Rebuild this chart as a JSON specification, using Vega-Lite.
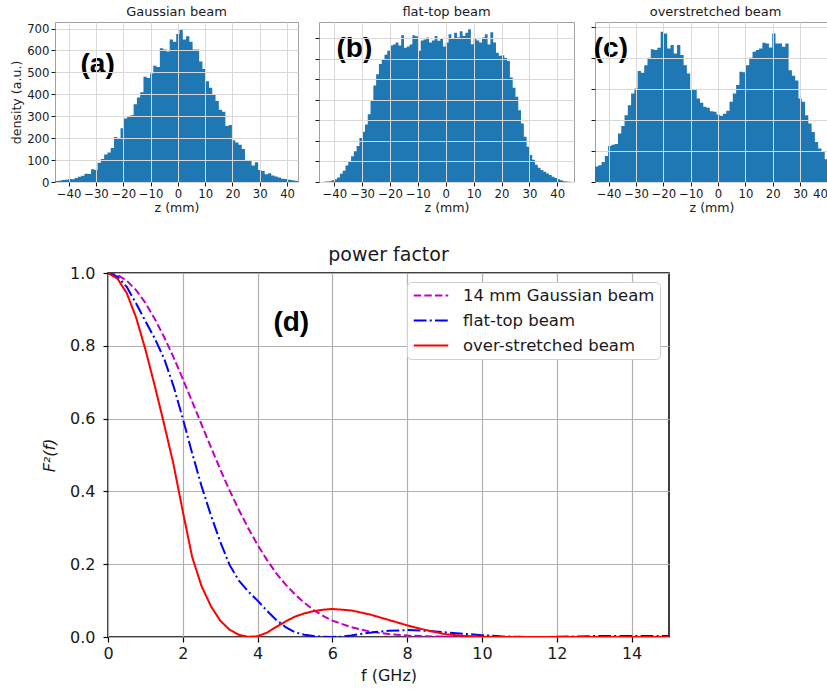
{
  "$schema": "https://vega.github.io/schema/vega-lite/v6.json",
  "padding": {"left": 10, "top": 5, "right": 0, "bottom": 0},
  "spacing": 30,
  "resolve": {"legend": {"color": "independent", "strokeDash": "independent"}},
  "config": {
    "font": "DejaVu Sans",
    "axis": {"labelColor": "#1a1a1a", "titleColor": "#1a1a1a", "titleFontWeight": "normal", "tickColor": "#1a1a1a", "labelOverlap": false},
    "title": {"fontWeight": "normal", "color": "#1a1a1a", "font": "DejaVu Sans"}
  },
  "datasets": {
    "gauss": [
      {"z": -45.0, "d": 4}, {"z": -43.8, "d": 6}, {"z": -42.6, "d": 9}, {"z": -41.4, "d": 10}, {"z": -40.2, "d": 14},
      {"z": -39.0, "d": 12}, {"z": -37.8, "d": 18}, {"z": -36.6, "d": 24}, {"z": -35.4, "d": 28}, {"z": -34.2, "d": 38},
      {"z": -33.0, "d": 36}, {"z": -31.8, "d": 58}, {"z": -30.6, "d": 55}, {"z": -29.4, "d": 88}, {"z": -28.2, "d": 105},
      {"z": -27.0, "d": 125}, {"z": -25.8, "d": 135}, {"z": -24.6, "d": 155}, {"z": -23.4, "d": 205}, {"z": -22.2, "d": 200},
      {"z": -21.0, "d": 245}, {"z": -19.8, "d": 290}, {"z": -18.6, "d": 300}, {"z": -17.4, "d": 305}, {"z": -16.2, "d": 355},
      {"z": -15.0, "d": 385}, {"z": -13.8, "d": 410}, {"z": -12.6, "d": 480}, {"z": -11.4, "d": 475}, {"z": -10.2, "d": 495},
      {"z": -9.0, "d": 530}, {"z": -7.8, "d": 525}, {"z": -6.6, "d": 610}, {"z": -5.4, "d": 605}, {"z": -4.2, "d": 595},
      {"z": -3.0, "d": 650}, {"z": -1.8, "d": 640}, {"z": -0.6, "d": 675}, {"z": 0.6, "d": 695}, {"z": 1.8, "d": 650},
      {"z": 3.0, "d": 665}, {"z": 4.2, "d": 640}, {"z": 5.4, "d": 605}, {"z": 6.6, "d": 605}, {"z": 7.8, "d": 550},
      {"z": 9.0, "d": 515}, {"z": 10.2, "d": 460}, {"z": 11.4, "d": 430}, {"z": 12.6, "d": 400}, {"z": 13.8, "d": 370},
      {"z": 15.0, "d": 330}, {"z": 16.2, "d": 320}, {"z": 17.4, "d": 255}, {"z": 18.6, "d": 260}, {"z": 19.8, "d": 190},
      {"z": 21.0, "d": 180}, {"z": 22.2, "d": 170}, {"z": 23.4, "d": 150}, {"z": 24.6, "d": 100}, {"z": 25.8, "d": 100},
      {"z": 27.0, "d": 75}, {"z": 28.2, "d": 90}, {"z": 29.4, "d": 55}, {"z": 30.6, "d": 50}, {"z": 31.8, "d": 35},
      {"z": 33.0, "d": 40}, {"z": 34.2, "d": 30}, {"z": 35.4, "d": 25}, {"z": 36.6, "d": 20}, {"z": 37.8, "d": 15},
      {"z": 39.0, "d": 14}, {"z": 40.2, "d": 10}, {"z": 41.4, "d": 8}, {"z": 42.6, "d": 6}, {"z": 43.8, "d": 4},
      {"z": 45.0, "d": 4}
    ],
    "flat": [
      {"z": -45, "d": 0}, {"z": -44, "d": 1}, {"z": -43, "d": 2}, {"z": -42, "d": 4}, {"z": -41, "d": 8},
      {"z": -40, "d": 14}, {"z": -39, "d": 22}, {"z": -38, "d": 40}, {"z": -37, "d": 55}, {"z": -36, "d": 80},
      {"z": -35, "d": 100}, {"z": -34, "d": 125}, {"z": -33, "d": 150}, {"z": -32, "d": 175}, {"z": -31, "d": 215},
      {"z": -30, "d": 245}, {"z": -29, "d": 280}, {"z": -28, "d": 330}, {"z": -27, "d": 400}, {"z": -26, "d": 470},
      {"z": -25, "d": 525}, {"z": -24, "d": 575}, {"z": -23, "d": 595}, {"z": -22, "d": 620}, {"z": -21, "d": 640},
      {"z": -20, "d": 665}, {"z": -19, "d": 670}, {"z": -18, "d": 680}, {"z": -17, "d": 665}, {"z": -16, "d": 715},
      {"z": -15, "d": 655}, {"z": -14, "d": 660}, {"z": -13, "d": 670}, {"z": -12, "d": 715}, {"z": -11, "d": 710},
      {"z": -10, "d": 640}, {"z": -9, "d": 690}, {"z": -8, "d": 695}, {"z": -7, "d": 705}, {"z": -6, "d": 680},
      {"z": -5, "d": 690}, {"z": -4, "d": 712}, {"z": -3, "d": 688}, {"z": -2, "d": 700}, {"z": -1, "d": 660},
      {"z": 0, "d": 680}, {"z": 1, "d": 720}, {"z": 2, "d": 700}, {"z": 3, "d": 728}, {"z": 4, "d": 705},
      {"z": 5, "d": 735}, {"z": 6, "d": 712}, {"z": 7, "d": 728}, {"z": 8, "d": 745}, {"z": 9, "d": 672},
      {"z": 10, "d": 700}, {"z": 11, "d": 690}, {"z": 12, "d": 680}, {"z": 13, "d": 705}, {"z": 14, "d": 720},
      {"z": 15, "d": 670}, {"z": 16, "d": 730}, {"z": 17, "d": 680}, {"z": 18, "d": 630}, {"z": 19, "d": 615},
      {"z": 20, "d": 618}, {"z": 21, "d": 605}, {"z": 22, "d": 590}, {"z": 23, "d": 510}, {"z": 24, "d": 460},
      {"z": 25, "d": 415}, {"z": 26, "d": 350}, {"z": 27, "d": 285}, {"z": 28, "d": 220}, {"z": 29, "d": 172},
      {"z": 30, "d": 132}, {"z": 31, "d": 108}, {"z": 32, "d": 84}, {"z": 33, "d": 70}, {"z": 34, "d": 58},
      {"z": 35, "d": 50}, {"z": 36, "d": 42}, {"z": 37, "d": 34}, {"z": 38, "d": 26}, {"z": 39, "d": 20},
      {"z": 40, "d": 14}, {"z": 41, "d": 8}, {"z": 42, "d": 4}, {"z": 43, "d": 2}, {"z": 44, "d": 1}, {"z": 45, "d": 1}
    ],
    "over": [
      {"z": -45.0, "d": 50}, {"z": -43.8, "d": 54}, {"z": -42.6, "d": 64}, {"z": -41.4, "d": 84}, {"z": -40.2, "d": 116},
      {"z": -39.0, "d": 120}, {"z": -37.8, "d": 122}, {"z": -36.6, "d": 156}, {"z": -35.4, "d": 180}, {"z": -34.2, "d": 215},
      {"z": -33.0, "d": 247}, {"z": -31.8, "d": 285}, {"z": -30.6, "d": 301}, {"z": -29.4, "d": 357}, {"z": -28.2, "d": 352},
      {"z": -27.0, "d": 376}, {"z": -25.8, "d": 400}, {"z": -24.6, "d": 427}, {"z": -23.4, "d": 425}, {"z": -22.2, "d": 432},
      {"z": -21.0, "d": 484}, {"z": -19.8, "d": 478}, {"z": -18.6, "d": 430}, {"z": -17.4, "d": 441}, {"z": -16.2, "d": 414},
      {"z": -15.0, "d": 441}, {"z": -13.8, "d": 409}, {"z": -12.6, "d": 376}, {"z": -11.4, "d": 349}, {"z": -10.2, "d": 299},
      {"z": -9.0, "d": 296}, {"z": -7.8, "d": 269}, {"z": -6.6, "d": 255}, {"z": -5.4, "d": 242}, {"z": -4.2, "d": 239},
      {"z": -3.0, "d": 228}, {"z": -1.8, "d": 226}, {"z": -0.6, "d": 217}, {"z": 0.6, "d": 213}, {"z": 1.8, "d": 220},
      {"z": 3.0, "d": 229}, {"z": 4.2, "d": 258}, {"z": 5.4, "d": 285}, {"z": 6.6, "d": 312}, {"z": 7.8, "d": 355},
      {"z": 9.0, "d": 353}, {"z": 10.2, "d": 376}, {"z": 11.4, "d": 400}, {"z": 12.6, "d": 419}, {"z": 13.8, "d": 425},
      {"z": 15.0, "d": 430}, {"z": 16.2, "d": 448}, {"z": 17.4, "d": 446}, {"z": 18.6, "d": 433}, {"z": 19.8, "d": 478},
      {"z": 21.0, "d": 446}, {"z": 22.2, "d": 446}, {"z": 23.4, "d": 435}, {"z": 24.6, "d": 446}, {"z": 25.8, "d": 360},
      {"z": 27.0, "d": 342}, {"z": 28.2, "d": 327}, {"z": 29.4, "d": 269}, {"z": 30.6, "d": 258}, {"z": 31.8, "d": 215},
      {"z": 33.0, "d": 188}, {"z": 34.2, "d": 161}, {"z": 35.4, "d": 129}, {"z": 36.6, "d": 108}, {"z": 37.8, "d": 100},
      {"z": 39.0, "d": 73}, {"z": 40.2, "d": 60}, {"z": 41.4, "d": 50}, {"z": 42.6, "d": 50}
    ],
    "power": [
      {"beam": "14 mm Gaussian beam", "f": 0, "F2": 1}, {"beam": "14 mm Gaussian beam", "f": 0.25, "F2": 0.995},
      {"beam": "14 mm Gaussian beam", "f": 0.5, "F2": 0.979}, {"beam": "14 mm Gaussian beam", "f": 0.75, "F2": 0.953},
      {"beam": "14 mm Gaussian beam", "f": 1, "F2": 0.918}, {"beam": "14 mm Gaussian beam", "f": 1.25, "F2": 0.874},
      {"beam": "14 mm Gaussian beam", "f": 1.5, "F2": 0.824}, {"beam": "14 mm Gaussian beam", "f": 1.75, "F2": 0.769},
      {"beam": "14 mm Gaussian beam", "f": 2, "F2": 0.709}, {"beam": "14 mm Gaussian beam", "f": 2.25, "F2": 0.647},
      {"beam": "14 mm Gaussian beam", "f": 2.5, "F2": 0.584}, {"beam": "14 mm Gaussian beam", "f": 2.75, "F2": 0.522},
      {"beam": "14 mm Gaussian beam", "f": 3, "F2": 0.461}, {"beam": "14 mm Gaussian beam", "f": 3.25, "F2": 0.403},
      {"beam": "14 mm Gaussian beam", "f": 3.5, "F2": 0.349}, {"beam": "14 mm Gaussian beam", "f": 3.75, "F2": 0.299},
      {"beam": "14 mm Gaussian beam", "f": 4, "F2": 0.253}, {"beam": "14 mm Gaussian beam", "f": 4.25, "F2": 0.212},
      {"beam": "14 mm Gaussian beam", "f": 4.5, "F2": 0.175}, {"beam": "14 mm Gaussian beam", "f": 4.75, "F2": 0.144},
      {"beam": "14 mm Gaussian beam", "f": 5, "F2": 0.117}, {"beam": "14 mm Gaussian beam", "f": 5.25, "F2": 0.094},
      {"beam": "14 mm Gaussian beam", "f": 5.5, "F2": 0.074}, {"beam": "14 mm Gaussian beam", "f": 5.75, "F2": 0.058},
      {"beam": "14 mm Gaussian beam", "f": 6, "F2": 0.045}, {"beam": "14 mm Gaussian beam", "f": 6.5, "F2": 0.027},
      {"beam": "14 mm Gaussian beam", "f": 7, "F2": 0.015}, {"beam": "14 mm Gaussian beam", "f": 7.5, "F2": 0.008},
      {"beam": "14 mm Gaussian beam", "f": 8, "F2": 0.004}, {"beam": "14 mm Gaussian beam", "f": 8.5, "F2": 0.002},
      {"beam": "14 mm Gaussian beam", "f": 9, "F2": 0.001}, {"beam": "14 mm Gaussian beam", "f": 10, "F2": 0.0002},
      {"beam": "14 mm Gaussian beam", "f": 11, "F2": 0}, {"beam": "14 mm Gaussian beam", "f": 13, "F2": 0},
      {"beam": "14 mm Gaussian beam", "f": 15, "F2": 0},
      {"beam": "flat-top beam", "f": 0, "F2": 1}, {"beam": "flat-top beam", "f": 0.25, "F2": 0.99},
      {"beam": "flat-top beam", "f": 0.5, "F2": 0.962}, {"beam": "flat-top beam", "f": 0.75, "F2": 0.917},
      {"beam": "flat-top beam", "f": 1, "F2": 0.868}, {"beam": "flat-top beam", "f": 1.25, "F2": 0.82},
      {"beam": "flat-top beam", "f": 1.5, "F2": 0.765}, {"beam": "flat-top beam", "f": 1.75, "F2": 0.69},
      {"beam": "flat-top beam", "f": 2, "F2": 0.6}, {"beam": "flat-top beam", "f": 2.25, "F2": 0.505},
      {"beam": "flat-top beam", "f": 2.5, "F2": 0.415}, {"beam": "flat-top beam", "f": 2.75, "F2": 0.335},
      {"beam": "flat-top beam", "f": 3, "F2": 0.262}, {"beam": "flat-top beam", "f": 3.25, "F2": 0.198},
      {"beam": "flat-top beam", "f": 3.5, "F2": 0.155}, {"beam": "flat-top beam", "f": 3.75, "F2": 0.125},
      {"beam": "flat-top beam", "f": 4, "F2": 0.1}, {"beam": "flat-top beam", "f": 4.25, "F2": 0.072},
      {"beam": "flat-top beam", "f": 4.5, "F2": 0.047}, {"beam": "flat-top beam", "f": 4.75, "F2": 0.027},
      {"beam": "flat-top beam", "f": 5, "F2": 0.013}, {"beam": "flat-top beam", "f": 5.25, "F2": 0.006},
      {"beam": "flat-top beam", "f": 5.5, "F2": 0.0025}, {"beam": "flat-top beam", "f": 5.75, "F2": 0.0006},
      {"beam": "flat-top beam", "f": 6, "F2": 0}, {"beam": "flat-top beam", "f": 6.25, "F2": 0.001},
      {"beam": "flat-top beam", "f": 6.5, "F2": 0.004}, {"beam": "flat-top beam", "f": 6.75, "F2": 0.008},
      {"beam": "flat-top beam", "f": 7, "F2": 0.012}, {"beam": "flat-top beam", "f": 7.5, "F2": 0.017},
      {"beam": "flat-top beam", "f": 8, "F2": 0.019}, {"beam": "flat-top beam", "f": 8.5, "F2": 0.017},
      {"beam": "flat-top beam", "f": 9, "F2": 0.013}, {"beam": "flat-top beam", "f": 9.5, "F2": 0.009},
      {"beam": "flat-top beam", "f": 10, "F2": 0.005}, {"beam": "flat-top beam", "f": 10.5, "F2": 0.002},
      {"beam": "flat-top beam", "f": 11, "F2": 0.0005}, {"beam": "flat-top beam", "f": 11.5, "F2": 0},
      {"beam": "flat-top beam", "f": 12, "F2": 0.0005}, {"beam": "flat-top beam", "f": 12.5, "F2": 0.0015},
      {"beam": "flat-top beam", "f": 13, "F2": 0.0025}, {"beam": "flat-top beam", "f": 13.5, "F2": 0.003},
      {"beam": "flat-top beam", "f": 14, "F2": 0.003}, {"beam": "flat-top beam", "f": 14.5, "F2": 0.003},
      {"beam": "flat-top beam", "f": 15, "F2": 0.0025},
      {"beam": "over-stretched beam", "f": 0, "F2": 1}, {"beam": "over-stretched beam", "f": 0.25, "F2": 0.985},
      {"beam": "over-stretched beam", "f": 0.5, "F2": 0.945}, {"beam": "over-stretched beam", "f": 0.75, "F2": 0.878},
      {"beam": "over-stretched beam", "f": 1, "F2": 0.79}, {"beam": "over-stretched beam", "f": 1.25, "F2": 0.69},
      {"beam": "over-stretched beam", "f": 1.5, "F2": 0.585}, {"beam": "over-stretched beam", "f": 1.75, "F2": 0.475},
      {"beam": "over-stretched beam", "f": 2, "F2": 0.345}, {"beam": "over-stretched beam", "f": 2.25, "F2": 0.22},
      {"beam": "over-stretched beam", "f": 2.5, "F2": 0.14}, {"beam": "over-stretched beam", "f": 2.75, "F2": 0.085},
      {"beam": "over-stretched beam", "f": 3, "F2": 0.045}, {"beam": "over-stretched beam", "f": 3.25, "F2": 0.02},
      {"beam": "over-stretched beam", "f": 3.5, "F2": 0.006}, {"beam": "over-stretched beam", "f": 3.75, "F2": 0.0005},
      {"beam": "over-stretched beam", "f": 4, "F2": 0.002}, {"beam": "over-stretched beam", "f": 4.25, "F2": 0.012},
      {"beam": "over-stretched beam", "f": 4.5, "F2": 0.028}, {"beam": "over-stretched beam", "f": 4.75, "F2": 0.043},
      {"beam": "over-stretched beam", "f": 5, "F2": 0.056}, {"beam": "over-stretched beam", "f": 5.25, "F2": 0.065},
      {"beam": "over-stretched beam", "f": 5.5, "F2": 0.071}, {"beam": "over-stretched beam", "f": 5.75, "F2": 0.075},
      {"beam": "over-stretched beam", "f": 6, "F2": 0.077}, {"beam": "over-stretched beam", "f": 6.5, "F2": 0.073},
      {"beam": "over-stretched beam", "f": 7, "F2": 0.062}, {"beam": "over-stretched beam", "f": 7.5, "F2": 0.047},
      {"beam": "over-stretched beam", "f": 8, "F2": 0.032}, {"beam": "over-stretched beam", "f": 8.5, "F2": 0.019},
      {"beam": "over-stretched beam", "f": 9, "F2": 0.008}, {"beam": "over-stretched beam", "f": 9.5, "F2": 0.003},
      {"beam": "over-stretched beam", "f": 10, "F2": 0.001}, {"beam": "over-stretched beam", "f": 10.5, "F2": 0},
      {"beam": "over-stretched beam", "f": 12, "F2": 0}, {"beam": "over-stretched beam", "f": 15, "F2": 0}
    ]
  },
  "vconcat": [
    {
      "spacing": 15,
      "hconcat": [
        {
          "width": 243, "height": 160,
          "title": {"text": "Gaussian beam", "fontSize": 13, "offset": 3},
          "view": {"stroke": "#a0a0a0"},
          "layer": [
            {
              "data": {"name": "gauss"},
              "mark": {"type": "area", "interpolate": "step-after", "color": "#1f77b4", "clip": true},
              "encoding": {
                "x": {"field": "z", "type": "quantitative", "scale": {"domain": [-45, 44], "nice": false, "zero": false},
                  "axis": {"values": [-40, -30, -20, -10, 0, 10, 20, 30, 40], "tickCount": 9, "labelExpr": "replace(datum.label, '-', '−')", "title": "z (mm)", "labelFontSize": 11.7, "titleFontSize": 12.6, "labelOverlap": false, "gridColor": "#d8d8d8", "domain": false, "tickSize": 4, "labelPadding": 2, "titlePadding": 2, "zindex": 1}},
                "y": {"field": "d", "type": "quantitative", "scale": {"domain": [0, 730], "nice": false},
                  "axis": {"values": [0, 100, 200, 300, 400, 500, 600, 700], "tickCount": 8, "title": "density (a.u.)", "labelFontSize": 11.7, "titleFontSize": 12.6, "gridColor": "#d8d8d8", "domain": false, "tickSize": 4, "labelPadding": 2, "titlePadding": 3, "zindex": 1}}
              }
            },
            {
              "data": {"values": [{"z": -29.4, "d": 533, "label": "(a)"}]},
              "mark": {"type": "text", "font": "Liberation Sans", "fontSize": 28, "fontWeight": "bold", "color": "#000"},
              "encoding": {"x": {"field": "z", "type": "quantitative"}, "y": {"field": "d", "type": "quantitative"}, "text": {"field": "label"}}
            }
          ]
        },
        {
          "width": 255, "height": 160,
          "title": {"text": "flat-top beam", "fontSize": 13, "offset": 3},
          "view": {"stroke": "#a0a0a0"},
          "layer": [
            {
              "data": {"name": "flat"},
              "mark": {"type": "area", "interpolate": "step-after", "color": "#1f77b4", "clip": true},
              "encoding": {
                "x": {"field": "z", "type": "quantitative", "scale": {"domain": [-45.5, 46], "nice": false, "zero": false},
                  "axis": {"values": [-40, -30, -20, -10, 0, 10, 20, 30, 40], "tickCount": 9, "labelExpr": "replace(datum.label, '-', '−')", "title": "z (mm)", "labelFontSize": 11.7, "titleFontSize": 12.6, "labelOverlap": false, "gridColor": "#d8d8d8", "domain": false, "tickSize": 4, "labelPadding": 2, "titlePadding": 2, "zindex": 1}},
                "y": {"field": "d", "type": "quantitative", "scale": {"domain": [0, 780], "nice": false},
                  "axis": {"values": [0, 100, 200, 300, 400, 500, 600, 700], "tickCount": 8, "labels": false, "title": null, "gridColor": "#d8d8d8", "domain": false, "tickSize": 4, "zindex": 1}}
              }
            },
            {
              "data": {"values": [{"z": -32.8, "d": 648, "label": "(b)"}]},
              "mark": {"type": "text", "font": "Liberation Sans", "fontSize": 28, "fontWeight": "bold", "color": "#000"},
              "encoding": {"x": {"field": "z", "type": "quantitative"}, "y": {"field": "d", "type": "quantitative"}, "text": {"field": "label"}}
            }
          ]
        },
        {
          "width": 233, "height": 160,
          "title": {"text": "overstretched beam", "fontSize": 13, "offset": 3, "dx": 4},
          "view": {"stroke": "#a0a0a0"},
          "layer": [
            {
              "data": {"name": "over"},
              "mark": {"type": "area", "interpolate": "step-after", "color": "#1f77b4", "clip": true},
              "encoding": {
                "x": {"field": "z", "type": "quantitative", "scale": {"domain": [-45, 40.2], "nice": false, "zero": false},
                  "axis": {"values": [-40, -30, -20, -10, 0, 10, 20, 30, 40], "tickCount": 9, "labelExpr": "replace(datum.label, '-', '−')", "title": "z (mm)", "labelFontSize": 11.7, "titleFontSize": 12.6, "labelOverlap": false, "gridColor": "#d8d8d8", "domain": false, "tickSize": 4, "labelPadding": 2, "titlePadding": 2, "zindex": 1, "labelFlush": 3}},
                "y": {"field": "d", "type": "quantitative", "scale": {"domain": [0, 515], "nice": false},
                  "axis": {"values": [0, 100, 200, 300, 400, 500], "tickCount": 6, "labels": false, "title": null, "gridColor": "#d8d8d8", "domain": false, "tickSize": 4, "zindex": 1}}
              }
            },
            {
              "data": {"values": [{"z": -39.2, "d": 428, "label": "(c)"}]},
              "mark": {"type": "text", "font": "Liberation Sans", "fontSize": 28, "fontWeight": "bold", "color": "#000"},
              "encoding": {"x": {"field": "z", "type": "quantitative"}, "y": {"field": "d", "type": "quantitative"}, "text": {"field": "label"}}
            }
          ]
        }
      ]
    },
    {
      "spacing": -19,
      "resolve": {"legend": {"color": "independent", "strokeDash": "independent"}},
      "hconcat": [
        {
          "width": 2, "height": 10,
          "view": {"stroke": null},
          "data": {"values": [{"v": 0}]},
          "mark": {"type": "point", "opacity": 0},
          "encoding": {}
        },
        {
          "width": 561, "height": 364,
          "title": {"text": "power factor", "fontSize": 19, "offset": 0},
          "view": {"stroke": "#000", "strokeWidth": 1.5},
          "layer": [
            {
              "data": {"name": "power"},
              "mark": {"type": "line", "strokeWidth": 2, "clip": true},
              "encoding": {
                "x": {"field": "f", "type": "quantitative", "scale": {"domain": [0, 15], "nice": false},
                  "axis": {"values": [0, 2, 4, 6, 8, 10, 12, 14], "title": "f (GHz)", "labelFontSize": 16, "titleFontSize": 16, "gridColor": "#b0b0b0", "gridWidth": 1.2, "domain": false, "tickSize": 5, "tickWidth": 1.2, "tickColor": "#000", "labelPadding": 3, "titlePadding": 6, "labelFlush": false}},
                "y": {"field": "F2", "type": "quantitative", "scale": {"domain": [0, 1], "nice": false},
                  "axis": {"values": [0, 0.2, 0.4, 0.6, 0.8, 1.0], "format": ".1f", "title": "F²(f)", "titleFontStyle": "italic", "labelFontSize": 16, "titleFontSize": 16, "gridColor": "#b0b0b0", "gridWidth": 1.2, "domain": false, "tickSize": 5, "tickWidth": 1.2, "tickColor": "#000", "labelPadding": 8, "titlePadding": 12, "labelFlush": false}},
                "color": {"field": "beam", "type": "nominal",
                  "scale": {"domain": ["14 mm Gaussian beam", "flat-top beam", "over-stretched beam"], "range": ["#bf00bf", "#0000ff", "#ff0000"]},
                  "legend": {"title": null, "orient": "top-right", "offset": 9, "fillColor": "#ffffff", "strokeColor": "#d0d0d0", "cornerRadius": 4, "padding": 5, "labelFontSize": 16.5, "labelLimit": 400, "labelColor": "#1a1a1a", "symbolType": "M-0.9,0H3.7", "symbolSize": 225, "symbolStrokeWidth": 2, "rowPadding": 8, "labelOffset": 34}},
                "strokeDash": {"field": "beam", "type": "nominal",
                  "scale": {"domain": ["14 mm Gaussian beam", "flat-top beam", "over-stretched beam"], "range": [[7.4, 3.2], [12.8, 3.2, 2, 3.2], [1, 0]]},
                  "legend": {"title": null, "orient": "top-right", "offset": 9, "fillColor": "#ffffff", "strokeColor": "#d0d0d0", "cornerRadius": 4, "padding": 5, "labelFontSize": 16.5, "labelLimit": 400, "labelColor": "#1a1a1a", "symbolType": "M-0.9,0H3.7", "symbolSize": 225, "symbolStrokeWidth": 2, "rowPadding": 8, "labelOffset": 34}}
              }
            },
            {
              "data": {"values": [{"f": 4.9, "F2": 0.863, "label": "(d)"}]},
              "mark": {"type": "text", "font": "Liberation Sans", "fontSize": 28, "fontWeight": "bold", "color": "#000"},
              "encoding": {"x": {"field": "f", "type": "quantitative"}, "y": {"field": "F2", "type": "quantitative"}, "text": {"field": "label"}}
            }
          ]
        }
      ]
    }
  ]
}
